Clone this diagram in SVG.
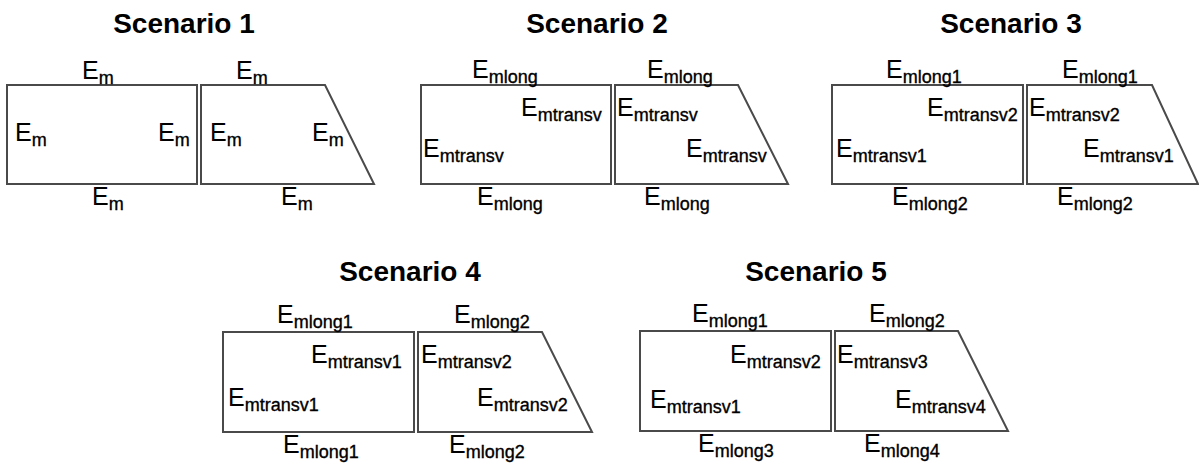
<svg xmlns="http://www.w3.org/2000/svg" width="1199" height="466" viewBox="0 0 1199 466">
<style>
.t{font-family:"Liberation Sans",Arial,sans-serif;font-weight:bold;font-size:28px;fill:#000;text-anchor:middle}
.l{font-family:"Liberation Sans",Arial,sans-serif;font-size:25px;fill:#000}
.s{font-size:18px;stroke:#000;stroke-width:0.35px}
.b{fill:#fff;stroke:#4a4a4a;stroke-width:2}
</style>
<rect width="1199" height="466" fill="#fff"/>
<g id="scenario1">
<text class="t" x="184" y="33">Scenario 1</text>
<rect class="b" x="7" y="85" width="190" height="99"/>
<polygon class="b" points="201,85 325,85 374,184 201,184"/>
<text class="l" x="82" y="79">E<tspan class="s" dy="5">m</tspan></text>
<text class="l" x="236" y="79">E<tspan class="s" dy="5">m</tspan></text>
<text class="l" x="15" y="141">E<tspan class="s" dy="5">m</tspan></text>
<text class="l" x="158" y="141">E<tspan class="s" dy="5">m</tspan></text>
<text class="l" x="210" y="141">E<tspan class="s" dy="5">m</tspan></text>
<text class="l" x="312" y="141">E<tspan class="s" dy="5">m</tspan></text>
<text class="l" x="92" y="205">E<tspan class="s" dy="5">m</tspan></text>
<text class="l" x="281" y="205">E<tspan class="s" dy="5">m</tspan></text>
</g>
<g id="scenario2">
<text class="t" x="597" y="33">Scenario 2</text>
<rect class="b" x="421" y="85" width="190" height="99"/>
<polygon class="b" points="615,85 738,85 788,184 615,184"/>
<text class="l" x="472" y="78">E<tspan class="s" dy="5">mlong</tspan></text>
<text class="l" x="647" y="78">E<tspan class="s" dy="5">mlong</tspan></text>
<text class="l" x="521" y="116">E<tspan class="s" dy="5">mtransv</tspan></text>
<text class="l" x="423" y="157">E<tspan class="s" dy="5">mtransv</tspan></text>
<text class="l" x="617" y="116">E<tspan class="s" dy="5">mtransv</tspan></text>
<text class="l" x="686" y="157">E<tspan class="s" dy="5">mtransv</tspan></text>
<text class="l" x="477" y="205">E<tspan class="s" dy="5">mlong</tspan></text>
<text class="l" x="644" y="205">E<tspan class="s" dy="5">mlong</tspan></text>
</g>
<g id="scenario3">
<text class="t" x="1011" y="33">Scenario 3</text>
<rect class="b" x="832" y="85" width="191" height="99"/>
<polygon class="b" points="1027,85 1152,85 1198,184 1027,184"/>
<text class="l" x="886" y="78">E<tspan class="s" dy="5">mlong1</tspan></text>
<text class="l" x="1062" y="78">E<tspan class="s" dy="5">mlong1</tspan></text>
<text class="l" x="927" y="116">E<tspan class="s" dy="5">mtransv2</tspan></text>
<text class="l" x="836" y="157">E<tspan class="s" dy="5">mtransv1</tspan></text>
<text class="l" x="1029" y="116">E<tspan class="s" dy="5">mtransv2</tspan></text>
<text class="l" x="1083" y="157">E<tspan class="s" dy="5">mtransv1</tspan></text>
<text class="l" x="892" y="205">E<tspan class="s" dy="5">mlong2</tspan></text>
<text class="l" x="1057" y="205">E<tspan class="s" dy="5">mlong2</tspan></text>
</g>
<g id="scenario4">
<text class="t" x="410" y="281">Scenario 4</text>
<rect class="b" x="223" y="332" width="191" height="100"/>
<polygon class="b" points="418,332 542,332 592,432 418,432"/>
<text class="l" x="277" y="323">E<tspan class="s" dy="5">mlong1</tspan></text>
<text class="l" x="454" y="323">E<tspan class="s" dy="5">mlong2</tspan></text>
<text class="l" x="311" y="363">E<tspan class="s" dy="5">mtransv1</tspan></text>
<text class="l" x="228" y="406">E<tspan class="s" dy="5">mtransv1</tspan></text>
<text class="l" x="421" y="363">E<tspan class="s" dy="5">mtransv2</tspan></text>
<text class="l" x="477" y="406">E<tspan class="s" dy="5">mtransv2</tspan></text>
<text class="l" x="283" y="453">E<tspan class="s" dy="5">mlong1</tspan></text>
<text class="l" x="449" y="453">E<tspan class="s" dy="5">mlong2</tspan></text>
</g>
<g id="scenario5">
<text class="t" x="816" y="281">Scenario 5</text>
<rect class="b" x="640" y="331" width="191" height="100"/>
<polygon class="b" points="835,331 958,331 1008,431 835,431"/>
<text class="l" x="692" y="322">E<tspan class="s" dy="5">mlong1</tspan></text>
<text class="l" x="869" y="322">E<tspan class="s" dy="5">mlong2</tspan></text>
<text class="l" x="730" y="363">E<tspan class="s" dy="5">mtransv2</tspan></text>
<text class="l" x="650" y="408">E<tspan class="s" dy="5">mtransv1</tspan></text>
<text class="l" x="837" y="363">E<tspan class="s" dy="5">mtransv3</tspan></text>
<text class="l" x="895" y="408">E<tspan class="s" dy="5">mtransv4</tspan></text>
<text class="l" x="698" y="452">E<tspan class="s" dy="5">mlong3</tspan></text>
<text class="l" x="864" y="452">E<tspan class="s" dy="5">mlong4</tspan></text>
</g>
<g id="connectors"></g>
</svg>
